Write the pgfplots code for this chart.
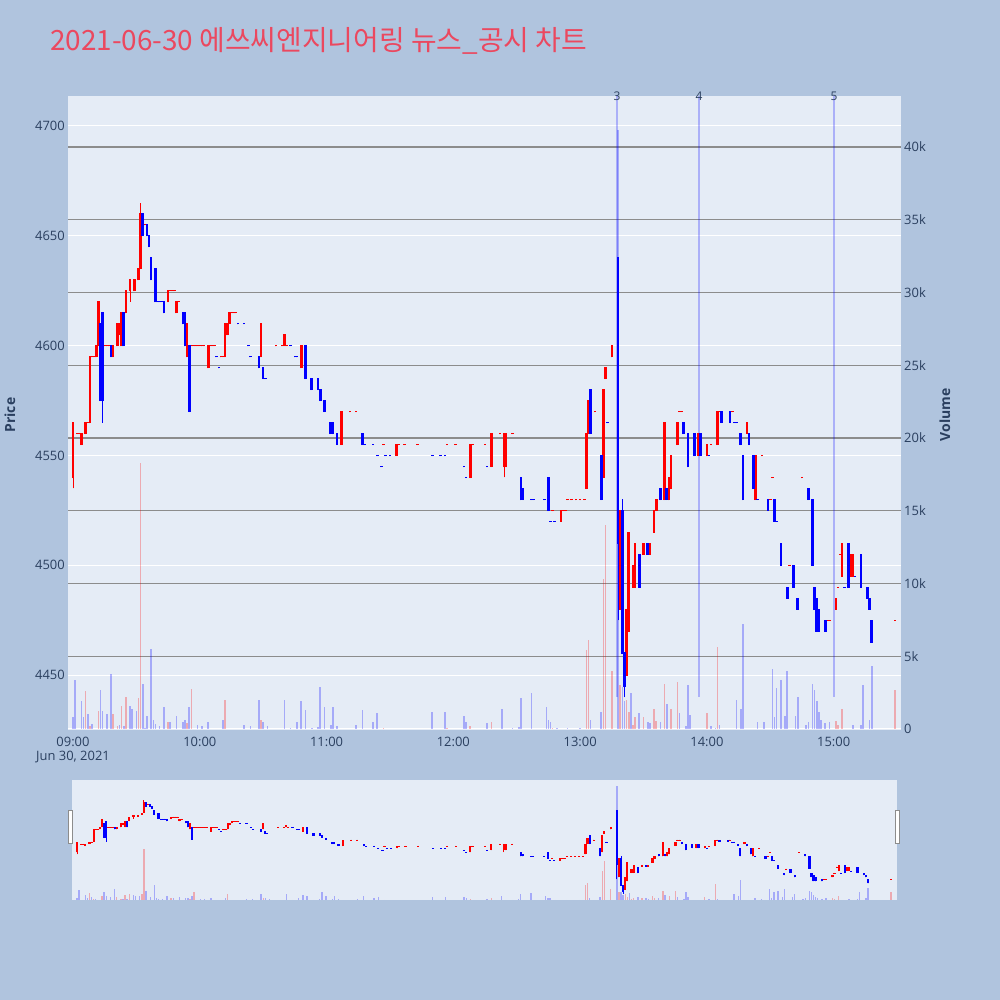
\documentclass[border=0pt]{standalone}
\usepackage{pgfplots}
\pgfplotsset{compat=1.18}
\usepackage{pgfplotstable}
\usepackage{fontspec}
\setmainfont{Open Sans}
\newfontfamily\kr{Noto Sans CJK KR}
\definecolor{bgc}{HTML}{B0C4DE}
\definecolor{plotbg}{HTML}{E5ECF6}
\definecolor{fontc}{HTML}{2A3F5F}
\definecolor{titlec}{RGB}{235,72,95}
\definecolor{cred}{RGB}{255,0,0}
\definecolor{cblue}{RGB}{0,0,255}
\definecolor{gridgray}{RGB}{140,140,140}

% candles: t o h l c  (minutes after 09:00)
\pgfplotstableread{
t o h l c
0 4540 4565 4535 4565
2 4560 4560 4560 4560
3 4560 4560 4560 4560
4 4555 4560 4555 4560
6 4560 4565 4560 4565
7 4565 4565 4565 4565
8 4565 4595 4565 4595
9 4595 4595 4595 4595
10 4595 4595 4595 4595
11 4595 4600 4595 4600
12 4600 4620 4600 4620
15 4600 4600 4600 4600
16 4600 4600 4600 4600
17 4600 4600 4600 4600
19 4595 4600 4595 4600
21 4600 4610 4600 4610
22 4605 4610 4605 4610
23 4600 4615 4600 4615
25 4615 4625 4615 4625
27 4625 4630 4620 4630
29 4625 4630 4625 4630
31 4630 4635 4630 4635
32 4635 4665 4635 4660
34 4655 4655 4655 4655
45 4620 4625 4620 4625
46 4625 4625 4625 4625
47 4625 4625 4625 4625
48 4625 4625 4625 4625
49 4615 4620 4615 4620
50 4620 4620 4620 4620
54 4595 4610 4595 4610
56 4600 4600 4600 4600
57 4600 4600 4600 4600
58 4600 4600 4600 4600
59 4600 4600 4600 4600
60 4600 4600 4600 4600
61 4600 4600 4600 4600
62 4600 4600 4600 4600
64 4590 4600 4590 4600
65 4600 4600 4600 4600
66 4600 4600 4600 4600
67 4600 4600 4600 4600
70 4595 4595 4595 4595
71 4595 4595 4595 4595
72 4595 4610 4595 4610
73 4605 4610 4605 4610
74 4610 4615 4610 4615
75 4615 4615 4615 4615
76 4615 4615 4615 4615
77 4615 4615 4615 4615
89 4595 4610 4595 4610
96 4600 4600 4600 4600
99 4600 4600 4600 4600
100 4600 4605 4600 4605
101 4600 4600 4600 4600
108 4590 4600 4590 4600
127 4555 4570 4555 4570
131 4570 4570 4570 4570
134 4570 4570 4570 4570
147 4555 4555 4555 4555
153 4550 4555 4550 4555
154 4555 4555 4555 4555
157 4555 4555 4555 4555
163 4555 4555 4555 4555
177 4555 4555 4555 4555
181 4555 4555 4555 4555
188 4540 4555 4540 4555
189 4555 4555 4555 4555
195 4555 4555 4555 4555
198 4545 4560 4545 4560
202 4560 4560 4560 4560
204 4545 4560 4540 4560
205 4545 4560 4545 4560
208 4560 4560 4560 4560
227 4525 4525 4525 4525
231 4520 4525 4520 4525
232 4525 4525 4525 4525
233 4525 4525 4525 4525
234 4530 4530 4530 4530
236 4530 4530 4530 4530
238 4530 4530 4530 4530
240 4530 4530 4530 4530
242 4530 4530 4530 4530
243 4535 4560 4535 4560
244 4560 4575 4560 4575
247 4570 4570 4570 4570
251 4540 4580 4540 4580
252 4585 4590 4585 4590
255 4595 4600 4595 4600
259 4480 4525 4480 4525
262 4450 4480 4450 4480
263 4470 4515 4470 4515
265 4490 4500 4490 4500
266 4490 4510 4490 4510
270 4505 4510 4505 4510
273 4505 4510 4505 4510
275 4515 4525 4515 4525
276 4525 4530 4525 4530
280 4530 4565 4530 4565
282 4530 4540 4530 4540
283 4535 4550 4535 4550
286 4555 4565 4555 4565
287 4570 4570 4570 4570
288 4570 4570 4570 4570
296 4550 4560 4550 4560
300 4550 4555 4550 4555
302 4555 4555 4555 4555
305 4555 4570 4555 4570
306 4570 4570 4570 4570
312 4570 4570 4570 4570
319 4560 4565 4560 4565
323 4530 4550 4530 4550
326 4550 4550 4550 4550
330 4530 4530 4530 4530
331 4540 4540 4540 4540
339 4500 4500 4500 4500
345 4540 4540 4540 4540
357 4475 4475 4475 4475
358 4475 4475 4475 4475
361 4480 4485 4480 4485
362 4490 4490 4490 4490
363 4505 4505 4505 4505
364 4495 4510 4495 4510
368 4495 4505 4495 4505
369 4495 4505 4495 4505
389 4475 4475 4475 4475
}\upc

\pgfplotstableread{
t o h l c
13 4610 4610 4575 4575
14 4615 4615 4565 4575
18 4600 4600 4595 4595
24 4615 4615 4600 4600
33 4660 4660 4650 4650
35 4655 4655 4650 4650
36 4650 4650 4645 4645
37 4640 4640 4630 4630
39 4635 4635 4620 4620
40 4620 4620 4620 4620
41 4620 4620 4620 4620
42 4620 4620 4620 4620
43 4620 4620 4615 4615
52 4615 4615 4610 4610
53 4615 4615 4600 4600
55 4600 4600 4570 4570
68 4595 4595 4595 4595
69 4590 4590 4590 4590
78 4610 4610 4610 4610
81 4610 4610 4610 4610
83 4600 4600 4600 4600
84 4595 4595 4595 4595
88 4595 4595 4590 4590
90 4590 4590 4585 4585
91 4585 4585 4585 4585
103 4600 4600 4600 4600
105 4595 4595 4595 4595
106 4595 4595 4595 4595
110 4600 4600 4585 4585
113 4585 4585 4580 4580
116 4585 4585 4580 4580
117 4580 4580 4575 4575
119 4575 4575 4570 4570
122 4565 4565 4560 4560
123 4565 4565 4560 4560
125 4560 4560 4555 4555
137 4560 4560 4555 4555
138 4555 4555 4555 4555
142 4555 4555 4555 4555
144 4550 4550 4550 4550
146 4545 4545 4545 4545
148 4550 4550 4550 4550
150 4550 4550 4550 4550
170 4550 4550 4550 4550
174 4550 4550 4550 4550
176 4550 4550 4550 4550
185 4545 4545 4545 4545
186 4540 4540 4540 4540
196 4545 4545 4545 4545
212 4540 4540 4530 4530
213 4535 4535 4530 4530
217 4530 4530 4530 4530
218 4530 4530 4530 4530
223 4530 4530 4530 4530
225 4540 4540 4525 4525
226 4520 4520 4520 4520
228 4520 4520 4520 4520
245 4580 4580 4560 4560
250 4550 4550 4530 4530
253 4565 4565 4565 4565
258 4640 4640 4475 4510
260 4525 4530 4460 4460
261 4460 4460 4440 4445
268 4505 4505 4490 4490
272 4510 4510 4505 4505
278 4535 4535 4530 4530
281 4535 4535 4530 4530
289 4565 4565 4560 4560
291 4560 4560 4545 4545
294 4560 4560 4550 4550
297 4560 4560 4550 4550
301 4550 4550 4550 4550
307 4570 4570 4565 4565
311 4570 4570 4565 4565
313 4565 4565 4565 4565
314 4565 4565 4565 4565
316 4560 4560 4555 4555
317 4550 4550 4530 4530
320 4560 4560 4555 4555
322 4550 4550 4535 4535
324 4530 4530 4530 4530
329 4530 4530 4525 4525
332 4530 4530 4520 4520
333 4520 4520 4520 4520
335 4510 4510 4500 4500
338 4490 4490 4485 4485
341 4500 4500 4490 4490
343 4485 4485 4480 4480
348 4535 4535 4530 4530
350 4530 4530 4500 4500
351 4490 4490 4480 4480
352 4485 4485 4470 4470
353 4480 4480 4470 4470
356 4475 4475 4470 4470
365 4490 4490 4490 4490
367 4510 4510 4490 4490
370 4495 4495 4495 4495
373 4505 4505 4490 4490
376 4490 4490 4485 4485
377 4485 4485 4480 4480
378 4475 4475 4465 4465
}\dnc

% volume in thousands
\pgfplotstableread{
t v
6 2.6
8 0.2
12 1.26
19 1.0
21 0.2
23 1.6
25 2.2
31 2.1
32 18.3
45 0.5
54 0.4
56 2.75
72 2.0
89 0.6
147 0.1
177 0.1
188 0.2
198 0.5
227 0.1
243 5.4
244 6.1
251 10.3
252 14.0
255 4.0
259 3.0
262 2.0
263 1.2
265 0.3
266 0.8
270 0.8
275 1.35
276 0.55
280 3.1
283 1.35
286 3.25
300 1.1
305 5.65
361 0.55
362 0.3
364 1.4
389 2.7
}\upv

\pgfplotstableread{
t v
0 0.8
1 3.4
4 1.9
5 0.8
7 1.0
9 0.35
13 2.7
14 1.26
16 1.0
18 3.8
22 0.25
24 0.2
27 1.6
28 1.4
30 1.26
33 3.1
34 0.1
35 0.9
37 5.5
38 0.6
39 0.35
41 0.2
43 1.5
46 0.5
49 0.9
52 0.5
53 0.6
55 1.5
59 0.3
61 0.2
64 0.5
71 0.6
81 0.25
84 0.2
88 2.0
90 0.5
92 0.2
100 2.0
103 0.1
106 0.5
108 1.9
110 1.3
113 0.1
116 0.15
117 2.9
119 1.5
122 0.3
123 1.5
125 0.2
134 0.3
137 1.3
142 0.5
144 1.1
170 1.2
176 1.2
185 0.9
186 0.5
196 0.4
203 1.35
208 0.1
211 0.15
212 2.1
217 2.5
224 1.5
225 0.6
226 0.5
229 0.1
234 0.1
240 0.1
245 0.6
250 1.2
258 41.2
260 2.9
261 1.9
264 2.5
268 1.1
272 0.5
273 0.4
278 0.5
281 1.7
287 1.1
290 0.2
291 3.0
292 0.95
302 0.2
304 0.1
306 0.3
314 2.0
316 1.35
317 7.2
324 0.5
327 0.45
331 4.1
332 0.8
333 2.85
335 3.35
337 0.9
338 4.0
342 0.9
343 2.2
347 0.3
348 0.5
350 3.1
351 2.7
352 1.9
353 1.2
354 0.65
356 0.4
358 0.5
369 0.3
373 0.3
374 3.0
377 0.65
378 4.35
}\dnv

\pgfplotsset{
  mainbox/.style={scale only axis, width=833bp, height=634bp, at={(68bp,270bp)}, anchor=south west, xmin=-2.37, xmax=391.86},
  slidebox/.style={scale only axis, width=825bp, height=120bp, at={(72bp,100bp)}, anchor=south west, xmin=-2.37, xmax=391.86},
  pricey/.style={ymin=4425, ymax=4713.66},
  voly/.style={ymin=-0.069, ymax=43.505},
  tickfont/.style={ticklabel style={font=\fontsize{13}{15}\selectfont, text=fontc}},
  nomark/.style={only marks, mark=*, mark size=0pt, mark options={draw=none, fill=none}},
}

\newcommand{\candles}[3]{% table, color, bodywidth
  \addplot[forget plot, nomark, error bars/.cd, y dir=plus, y explicit, error mark=none,
    error bar style={line width=0.9bp, draw=#2}]
    table[x=t, y=l, y error expr={\thisrow{h}-\thisrow{l}}] {#1};
  \addplot[forget plot, nomark, error bars/.cd, y dir=plus, y explicit, error mark=none,
    error bar style={line width=#3, draw=#2}]
    table[x=t, y expr={min(\thisrow{o},\thisrow{c})-0.3}, y error expr={abs(\thisrow{c}-\thisrow{o})+0.6}] {#1};
}

\begin{document}
\begin{tikzpicture}
\fill[bgc] (0,0) rectangle (1000bp,1000bp);

% ---------- main price background ----------
\begin{axis}[mainbox, pricey, tickfont,
  axis background/.style={fill=plotbg},
  axis line style={draw=none}, tick style={draw=none}, major tick length=0pt,
  ytick={4450,4500,...,4700}, ymajorgrids, major grid style={white, line width=1bp},
  xtick={0,60,...,360}, xticklabels={09:00,10:00,11:00,12:00,13:00,14:00,15:00},
  yticklabel style={anchor=east, inner sep=0pt, xshift=-3bp},
  xticklabel style={anchor=north, inner sep=0pt, yshift=-7bp},
  /pgf/number format/1000 sep={}, /pgf/number format/assume math mode=true]
\end{axis}

% ---------- volume ----------
\begin{axis}[mainbox, voly, tickfont,
  axis y line*=right, axis x line=none, axis line style={draw=none},
  tick style={draw=none}, major tick length=0pt,
  ytick={5,10,...,40}, yticklabels={5k,10k,15k,20k,25k,30k,35k,40k},
  extra y ticks={0}, extra y tick labels={0},
  extra y tick style={major grid style={white, line width=1bp}},
  ymajorgrids, major grid style={gridgray, line width=1.2bp},
  yticklabel style={anchor=west, inner sep=0pt, xshift=3bp},
  /pgf/number format/assume math mode=true]
\addplot[ycomb, mark=none, draw=cred, draw opacity=0.28, line width=1.6bp] table[x=t,y=v] {\upv};
\addplot[ycomb, mark=none, draw=cblue, draw opacity=0.28, line width=1.6bp] table[x=t,y=v] {\dnv};
\addplot[mark=none, draw=cblue, draw opacity=0.25, line width=1.6bp] coordinates {(257.5,2.2) (257.5,43.505)};
\addplot[mark=none, draw=cblue, draw opacity=0.25, line width=1.6bp] coordinates {(296.3,2.2) (296.3,43.505)};
\addplot[mark=none, draw=cblue, draw opacity=0.25, line width=1.6bp] coordinates {(360.1,2.2) (360.1,43.505)};
\end{axis}

% ---------- candles ----------
\begin{axis}[mainbox, pricey, hide axis]
\candles{\upc}{cred}{2.6bp}
\candles{\dnc}{cblue}{2.6bp}
\end{axis}

% ---------- range slider ----------
\begin{axis}[slidebox, pricey, hide axis, axis background/.style={fill=plotbg}]
\end{axis}
\begin{axis}[slidebox, voly, hide axis]
\addplot[ycomb, mark=none, draw=cred, draw opacity=0.28, line width=1.4bp] table[x=t,y=v] {\upv};
\addplot[ycomb, mark=none, draw=cblue, draw opacity=0.28, line width=1.4bp] table[x=t,y=v] {\dnv};
\end{axis}
\begin{axis}[slidebox, pricey, hide axis]
\candles{\upc}{cred}{2.2bp}
\candles{\dnc}{cblue}{2.2bp}
\end{axis}
\draw[gridgray, fill=white, line width=0.6bp] (68.5bp,157bp) rectangle (72.5bp,190bp);
\draw[gridgray, fill=white, line width=0.6bp] (895.5bp,157bp) rectangle (899.5bp,190bp);

% ---------- texts ----------
\node[anchor=base west, text=titlec, inner sep=0pt, font=\kr\fontsize{28}{32}\selectfont] at (50bp,949bp) {2021-06-30 에쓰씨엔지니어링 뉴스\_공시 차트};
\node[text=fontc, font=\fontsize{13}{15}\selectfont] at (73bp,243bp) {Jun 30, 2021};
\node[text=fontc, rotate=90, font=\bfseries\fontsize{14}{16}\selectfont] at (10bp,585bp) {Price};
\node[text=fontc, rotate=90, font=\bfseries\fontsize{14}{16}\selectfont] at (945bp,585bp) {Volume};
\node[text=fontc, font=\fontsize{12}{14}\selectfont] at (617bp,904bp) {3};
\node[text=fontc, font=\fontsize{12}{14}\selectfont] at (699bp,904bp) {4};
\node[text=fontc, font=\fontsize{12}{14}\selectfont] at (834bp,904bp) {5};

\pgfresetboundingbox
\useasboundingbox (0,0) rectangle (1000bp,1000bp);
\end{tikzpicture}
\end{document}
